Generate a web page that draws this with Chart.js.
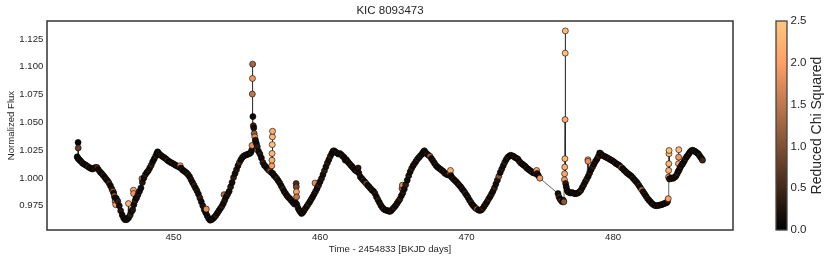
<!DOCTYPE html>
<html><head><meta charset="utf-8">
<script src="https://cdn.jsdelivr.net/npm/chart.js@4/dist/chart.umd.min.js"></script>
<style>
html,body{margin:0;padding:0;background:#fff;overflow:hidden}
#wrap{position:relative;width:831px;height:262px}
.box{position:absolute;top:0;height:262px}
</style></head><body>
<div id="wrap">
  <div class="box" style="left:0;width:831px"><canvas id="main"></canvas></div>
  <div class="box" style="left:760px;width:71px"><canvas id="cbar"></canvas></div>
</div>
<script>
const titleText = 'KIC 8093473';
const xLabel = 'Time - 2454833 [BKJD days]';
const yLabel = 'Normalized Flux';
const cbLabel = 'Reduced Chi Squared';
const xTicks = [450, 460, 470, 480];
const yTicks = [0.975, 1.000, 1.025, 1.050, 1.075, 1.100, 1.125];
const cbTicks = [0.0, 0.5, 1.0, 1.5, 2.0, 2.5];

const time = [
443.43,443.47,443.49,443.50,443.53,443.60,443.68,443.78,443.88,443.98,
444.08,444.18,444.28,444.38,444.48,444.58,444.68,444.78,444.88,445.00,
445.10,445.20,445.30,445.40,445.50,445.60,445.70,445.80,445.87,445.92,
445.96,446.00,446.02,446.06,446.10,446.20,446.30,446.40,446.50,446.60,
446.70,446.80,446.88,446.93,446.95,447.05,447.15,447.22,447.27,447.28,
447.30,447.38,447.48,447.58,447.68,447.78,447.85,447.88,447.98,448.08,
448.18,448.28,448.38,448.48,448.58,448.68,448.78,448.86,448.92,448.98,
449.08,449.18,449.28,449.38,449.48,449.58,449.68,449.78,449.88,449.98,
450.08,450.18,450.28,450.38,450.46,450.50,450.60,450.70,450.80,450.90,
451.00,451.10,451.20,451.30,451.40,451.50,451.60,451.70,451.80,451.90,
452.00,452.10,452.20,452.24,452.30,452.40,452.50,452.60,452.70,452.80,
452.90,453.00,453.10,453.20,453.30,453.40,453.45,453.50,453.60,453.70,
453.80,453.90,454.00,454.10,454.20,454.30,454.40,454.50,454.60,454.70,
454.80,454.90,455.00,455.10,455.20,455.28,455.34,455.36,455.38,455.39,
455.40,455.42,455.45,455.48,455.51,455.55,455.60,455.66,455.72,455.80,
455.90,456.00,456.10,456.20,456.30,456.40,456.50,456.60,456.68,456.71,
456.72,456.73,456.74,456.75,456.76,456.78,456.85,456.95,457.05,457.15,
457.25,457.35,457.45,457.55,457.65,457.75,457.85,457.95,458.05,458.15,
458.25,458.35,458.37,458.38,458.39,458.40,458.42,458.50,458.58,458.66,
458.74,458.82,458.90,459.00,459.10,459.20,459.30,459.40,459.50,459.60,
459.66,459.70,459.80,459.90,460.00,460.10,460.20,460.30,460.40,460.50,
460.60,460.70,460.80,460.88,460.95,461.05,461.15,461.25,461.35,461.45,
461.55,461.65,461.72,461.80,461.90,462.00,462.10,462.20,462.30,462.40,
462.50,462.60,462.65,462.75,462.85,462.95,463.05,463.15,463.25,463.35,
463.45,463.55,463.65,463.75,463.85,463.95,464.05,464.15,464.25,464.35,
464.45,464.55,464.65,464.75,464.85,464.95,465.05,465.15,465.25,465.35,
465.45,465.55,465.60,465.62,465.65,465.75,465.85,465.95,466.05,466.15,
466.25,466.35,466.45,466.55,466.65,466.75,466.85,466.95,467.05,467.12,
467.20,467.30,467.40,467.50,467.60,467.70,467.80,467.90,468.00,468.10,
468.20,468.30,468.40,468.50,468.60,468.70,468.80,468.88,468.90,468.92,
469.00,469.10,469.20,469.30,469.40,469.50,469.60,469.70,469.80,469.90,
470.00,470.10,470.20,470.30,470.40,470.50,470.60,470.70,470.80,470.90,
471.00,471.10,471.20,471.30,471.40,471.50,471.60,471.70,471.80,471.90,
472.00,472.10,472.20,472.30,472.40,472.50,472.60,472.70,472.80,472.90,
473.00,473.10,473.20,473.30,473.40,473.50,473.60,473.70,473.80,473.90,
474.00,474.10,474.20,474.30,474.40,474.50,474.60,474.70,474.78,474.82,
474.90,475.00,476.24,476.30,476.38,476.46,476.54,476.60,476.64,476.68,
476.69,476.70,476.71,476.72,476.73,476.74,476.76,476.80,476.86,476.92,
477.00,477.10,477.20,477.30,477.40,477.50,477.60,477.70,477.80,477.90,
478.00,478.10,478.20,478.28,478.29,478.30,478.40,478.50,478.60,478.70,
478.80,478.90,479.00,479.08,479.15,479.25,479.35,479.45,479.55,479.65,
479.75,479.85,479.95,480.05,480.15,480.25,480.35,480.45,480.55,480.65,
480.75,480.85,480.95,481.05,481.15,481.25,481.35,481.45,481.55,481.65,
481.75,481.85,481.95,482.05,482.15,482.25,482.35,482.45,482.55,482.65,
482.75,482.85,482.95,483.05,483.15,483.25,483.35,483.45,483.55,483.65,
483.72,483.76,483.78,483.79,483.80,483.81,483.82,483.84,483.90,483.98,
484.06,484.14,484.22,484.30,484.38,484.44,484.46,484.47,484.48,484.50,
484.56,484.62,484.70,484.78,484.86,484.94,485.02,485.10,485.18,485.26,
485.34,485.42,485.50,485.58,485.66,485.74,485.82,485.90,485.98,486.06,
486.10
];

const flux = [
1.0190,1.0180,1.0320,1.0270,1.0170,1.0160,1.0150,1.0135,1.0125,1.0118,
1.0110,1.0100,1.0092,1.0085,1.0080,1.0088,1.0095,1.0095,1.0075,1.0053,
1.0040,1.0025,1.0008,0.9990,0.9975,0.9955,0.9930,0.9900,0.9880,0.9865,
0.9840,0.9820,0.9790,0.9760,0.9815,0.9790,0.9750,0.9705,0.9668,0.9640,
0.9625,0.9625,0.9635,0.9770,0.9645,0.9668,0.9700,0.9715,0.9890,0.9860,
0.9760,0.9795,0.9820,0.9850,0.9880,0.9910,0.9994,0.9960,1.0000,1.0030,
1.0050,1.0065,1.0090,1.0115,1.0145,1.0170,1.0195,1.0220,1.0235,1.0225,
1.0210,1.0200,1.0190,1.0182,1.0172,1.0160,1.0150,1.0142,1.0135,1.0128,
1.0120,1.0112,1.0105,1.0098,1.0110,1.0090,1.0075,1.0065,1.0055,1.0045,
1.0030,1.0012,0.9985,0.9960,0.9935,0.9910,0.9885,0.9855,0.9820,0.9785,
0.9750,0.9715,0.9688,0.9720,0.9660,0.9635,0.9620,0.9625,0.9635,0.9648,
0.9665,0.9685,0.9705,0.9725,0.9745,0.9770,0.9850,0.9800,0.9830,0.9855,
0.9880,0.9920,0.9960,1.0005,1.0040,1.0075,1.0110,1.0140,1.0165,1.0185,
1.0198,1.0205,1.0210,1.0215,1.0220,1.0230,1.0250,1.0292,1.0755,1.0895,
1.1024,1.0552,1.0470,1.0450,1.0400,1.0370,1.0340,1.0310,1.0280,1.0240,
1.0215,1.0180,1.0140,1.0115,1.0100,1.0085,1.0070,1.0060,1.0050,1.0110,
1.0160,1.0220,1.0300,1.0370,1.0420,1.0040,1.0025,1.0010,0.9995,0.9975,
0.9955,0.9930,0.9905,0.9880,0.9860,0.9840,0.9825,0.9812,0.9795,0.9780,
0.9765,0.9775,0.9950,0.9920,0.9875,0.9830,0.9760,0.9730,0.9710,0.9695,
0.9680,0.9690,0.9705,0.9725,0.9745,0.9765,0.9785,0.9808,0.9830,0.9855,
0.9954,0.9880,0.9905,0.9935,0.9965,0.9995,1.0030,1.0065,1.0100,1.0135,
1.0165,1.0195,1.0220,1.0240,1.0245,1.0235,1.0225,1.0215,1.0220,1.0210,
1.0195,1.0185,1.0160,1.0165,1.0145,1.0130,1.0115,1.0100,1.0085,1.0070,
1.0060,1.0090,1.0045,1.0010,0.9995,0.9980,0.9965,0.9950,0.9935,0.9920,
0.9905,0.9890,0.9880,0.9860,0.9830,0.9805,0.9780,0.9755,0.9735,0.9720,
0.9712,0.9708,0.9705,0.9698,0.9705,0.9720,0.9735,0.9750,0.9770,0.9790,
0.9810,0.9840,0.9905,0.9935,0.9865,0.9900,0.9940,0.9980,1.0020,1.0055,
1.0085,1.0110,1.0130,1.0150,1.0170,1.0185,1.0200,1.0215,1.0235,1.0245,
1.0230,1.0215,1.0205,1.0195,1.0175,1.0155,1.0135,1.0115,1.0100,1.0090,
1.0080,1.0070,1.0060,1.0045,1.0035,1.0030,1.0025,1.0040,1.0068,1.0020,
1.0005,0.9990,0.9978,0.9965,0.9950,0.9935,0.9920,0.9900,0.9885,0.9865,
0.9845,0.9825,0.9800,0.9780,0.9760,0.9745,0.9730,0.9720,0.9712,0.9708,
0.9712,0.9725,0.9745,0.9765,0.9785,0.9810,0.9830,0.9855,0.9880,0.9910,
0.9945,0.9980,1.0015,1.0050,1.0080,1.0110,1.0140,1.0165,1.0185,1.0195,
1.0205,1.0200,1.0195,1.0185,1.0178,1.0170,1.0150,1.0135,1.0125,1.0115,
1.0105,1.0090,1.0080,1.0070,1.0060,1.0050,1.0045,1.0040,1.0068,1.0040,
1.0020,0.9998,0.9860,0.9830,0.9810,0.9795,0.9785,0.9800,0.9785,0.9985,
1.0038,1.0098,1.0173,1.0525,1.1123,1.1323,0.9950,0.9920,0.9890,0.9875,
0.9870,0.9865,0.9870,0.9862,0.9858,0.9860,0.9865,0.9875,0.9890,0.9915,
0.9940,0.9965,0.9990,1.0164,1.0150,1.0015,1.0045,1.0075,1.0100,1.0125,
1.0150,1.0170,1.0195,1.0225,1.0220,1.0205,1.0198,1.0192,1.0185,1.0178,
1.0170,1.0162,1.0155,1.0145,1.0135,1.0125,1.0118,1.0110,1.0095,1.0085,
1.0070,1.0058,1.0045,1.0035,1.0025,1.0015,1.0000,0.9985,0.9970,0.9955,
0.9935,0.9915,0.9895,0.9875,0.9855,0.9835,0.9815,0.9800,0.9785,0.9770,
0.9760,0.9752,0.9750,0.9752,0.9755,0.9758,0.9762,0.9768,0.9772,0.9778,
0.9790,0.9814,1.0008,1.0068,1.0128,1.0218,1.0247,0.9990,0.9995,1.0000,
0.9995,1.0002,1.0008,1.0020,1.0040,1.0060,1.0128,1.0187,1.0254,1.0070,
1.0090,1.0105,1.0120,1.0135,1.0155,1.0175,1.0190,1.0205,1.0220,1.0235,
1.0245,1.0250,1.0245,1.0240,1.0232,1.0225,1.0215,1.0200,1.0185,1.0170,
1.0160
];

const chi2 = [
0.15,0.1,0.05,0.8,0.15,0.25,0.1,0.35,0.15,0.25,
0.1,0.5,0.15,0.25,0.1,0.35,0.15,0.5,0.15,0.25,
0.15,0.35,0.1,0.25,0.15,0.5,0.15,0.25,1.3,0.15,
1.1,0.25,1.6,2.0,0.15,0.35,0.15,0.25,0.1,0.15,
0.1,0.25,0.15,2.2,0.15,0.35,0.15,0.25,2.1,1.9,
0.15,0.35,0.15,0.25,0.15,0.15,1.5,0.25,0.15,0.35,
0.15,0.25,0.15,0.35,0.15,0.1,0.25,0.15,0.1,0.25,
0.15,0.35,0.15,0.25,0.15,0.5,0.15,0.25,0.15,0.35,
0.15,0.25,0.15,0.25,2.0,0.15,0.35,0.15,0.25,0.15,
0.35,0.15,0.25,0.15,0.35,0.15,0.25,0.15,0.35,0.15,
0.25,0.15,0.1,1.8,0.15,0.25,0.1,0.15,0.25,0.15,
0.35,0.15,0.25,0.15,0.35,0.15,1.4,0.25,0.15,0.25,
0.15,0.25,0.15,0.35,0.15,0.25,0.15,0.5,0.15,0.25,
0.15,0.35,0.15,0.25,0.15,0.25,0.15,1.8,1.5,1.9,
1.3,0.1,0.5,0.15,1.2,1.8,0.25,0.15,0.35,0.15,
0.25,0.15,0.35,0.15,0.25,0.15,0.35,1.5,0.15,2.0,
2.2,2.3,2.4,2.3,2.2,0.15,0.25,0.15,0.35,0.15,
0.25,0.15,0.35,0.15,0.25,0.15,0.35,0.15,0.25,0.15,
0.25,0.15,0.6,0.9,2.0,1.5,0.15,0.25,0.15,0.35,
0.1,0.25,0.15,0.25,0.15,0.35,0.15,0.25,0.15,0.15,
1.8,0.25,0.15,0.35,0.15,0.25,0.15,0.35,0.15,0.25,
0.15,0.35,0.15,0.1,0.25,0.15,0.35,0.15,0.25,0.15,
0.35,0.15,0.25,0.15,0.25,0.15,0.35,0.15,0.25,0.15,
0.35,0.25,0.15,0.25,0.15,0.35,0.15,1.0,0.15,0.25,
0.15,0.35,0.15,0.25,0.15,0.35,0.15,0.25,0.15,0.35,
0.15,0.25,0.15,0.1,0.25,0.15,0.35,0.15,0.25,0.15,
0.35,0.15,1.2,1.7,0.25,0.15,0.35,0.15,0.25,0.15,
0.35,0.15,0.25,0.15,0.35,0.15,0.25,0.15,0.1,0.25,
0.15,0.35,0.15,1.2,0.15,0.25,0.15,0.35,0.15,0.25,
0.15,0.35,0.15,0.25,0.15,0.35,0.15,1.9,2.2,0.25,
0.15,0.35,0.15,0.25,0.15,0.35,0.15,0.25,0.15,0.35,
0.15,0.25,0.15,0.35,0.15,0.25,0.15,1.4,0.15,0.25,
0.15,0.35,0.15,0.25,0.15,0.35,0.15,0.25,0.15,0.35,
0.15,0.25,1.0,0.15,0.25,0.15,0.35,0.15,0.25,0.15,
0.1,0.25,0.15,0.35,0.15,0.25,0.15,0.35,0.15,0.25,
0.15,0.35,0.15,0.25,0.15,0.35,0.15,0.25,2.0,0.25,
0.15,1.9,0.15,0.5,0.15,0.9,0.25,0.15,1.1,1.9,
2.1,2.2,2.3,2.1,2.4,2.3,0.35,0.15,0.25,0.15,
0.35,0.15,0.25,0.15,0.35,0.15,0.25,0.15,0.35,0.15,
0.25,0.15,0.35,2.0,1.8,0.15,0.25,0.15,0.35,0.15,
0.25,0.15,0.35,0.1,0.25,0.15,0.35,0.15,0.25,0.15,
0.35,0.15,0.25,0.15,0.35,0.15,0.25,0.15,1.2,0.15,
0.25,0.15,0.35,0.15,0.25,0.15,0.35,0.15,0.25,0.15,
0.35,0.15,1.3,0.15,0.25,0.15,0.35,0.15,0.25,0.15,
0.35,0.15,0.25,0.15,0.35,0.15,0.25,0.15,0.35,0.15,
0.25,2.0,1.8,2.2,2.3,2.4,2.4,0.25,0.5,0.15,
0.35,0.15,0.25,0.15,0.35,0.15,2.1,1.9,2.3,0.25,
0.15,0.35,0.15,0.25,0.15,0.35,0.15,0.25,0.15,0.35,
0.15,0.25,0.15,0.35,0.15,0.25,0.15,0.35,0.15,0.25,
0.5
];

const cbMin = 0, cbMax = 2.5;
const xMin = 441.37, xMax = 488.18;
const yMin = 0.9532, yMax = 1.1412;

const FONT = "'Liberation Sans', Arial, Helvetica, sans-serif";
const TXT = '#262626';
Chart.defaults.font.family = FONT;
Chart.defaults.color = TXT;

function copper(v) {
  const x = Math.max(0, Math.min(1, (v - cbMin) / (cbMax - cbMin)));
  const r = Math.round(255 * Math.min(1, 1.25 * x));
  const g = Math.round(255 * 0.7812 * x);
  const b = Math.round(255 * 0.4975 * x);
  return `rgb(${r},${g},${b})`;
}

const n = Math.min(time.length, flux.length, chi2.length);
const pts = [];
const cols = [];
for (let i = 0; i < n; i++) { pts.push({x: time[i], y: flux[i]}); cols.push(copper(chi2[i])); }

const framePlugin = {
  id: 'frame',
  afterDraw(chart, args, opts) {
    const a = chart.chartArea, c = chart.ctx;
    c.save();
    c.strokeStyle = opts.color || '#333';
    c.lineWidth = opts.width || 1.5;
    c.strokeRect(a.left, a.top, a.right - a.left, a.bottom - a.top);
    c.restore();
  }
};

new Chart(document.getElementById('main'), {
  type: 'scatter',
  data: { datasets: [{
    data: pts,
    showLine: true,
    borderColor: 'rgba(25,25,25,0.85)',
    borderWidth: 0.8,
    tension: 0,
    pointRadius: 3.0,
    pointBackgroundColor: cols,
    pointBorderColor: '#000',
    pointBorderWidth: 0.6
  }]},
  options: {
    responsive: true, maintainAspectRatio: false, animation: false, events: [],
    layout: { padding: { left: 0, right: 98, top: 0, bottom: 0 } },
    plugins: {
      legend: { display: false }, tooltip: { enabled: false },
      title: { display: true, text: titleText, fullSize: false, color: TXT,
        font: { family: FONT, size: 11.5, weight: 'normal' }, padding: { top: 4.1, bottom: 3.1 } },
      frame: { color: '#333', width: 1.5 }
    },
    scales: {
      x: {
        type: 'linear', min: xMin, max: xMax,
        afterBuildTicks: s => { s.ticks = xTicks.map(v => ({ value: v })); },
        afterFit: s => { s.height = 32; },
        grid: { display: false, drawTicks: false }, border: { display: false },
        ticks: { font: { size: 9.6 }, color: TXT, padding: 1.5, maxRotation: 0, callback: v => String(v) },
        title: { display: true, text: xLabel, color: TXT, font: { size: 9.6 }, padding: { top: 0, bottom: 6.9 } }
      },
      y: {
        type: 'linear', min: yMin, max: yMax,
        afterBuildTicks: s => { s.ticks = yTicks.map(v => ({ value: v })); },
        afterFit: s => { s.width = 47; },
        grid: { display: false, drawTicks: false }, border: { display: false },
        ticks: { font: { size: 9.6 }, color: TXT, padding: 3.7, callback: v => Number(v).toFixed(3) },
        title: { display: true, text: yLabel, color: TXT, font: { size: 9.6 }, padding: { top: 5.2, bottom: 0 } }
      }
    }
  },
  plugins: [framePlugin]
});

const cbPlugin = {
  id: 'cbdeco',
  afterDraw(chart) {
    const a = chart.chartArea, c = chart.ctx;
    c.save();
    c.strokeStyle = '#444';
    c.lineWidth = 1.3;
    c.strokeRect(a.left, a.top, a.right - a.left, a.bottom - a.top);
    c.translate(57, (a.top + a.bottom) / 2);
    c.rotate(-Math.PI / 2);
    c.fillStyle = TXT;
    c.font = `14px ${FONT}`;
    c.textAlign = 'center';
    c.textBaseline = 'middle';
    c.fillText(cbLabel, 0, 0);
    c.restore();
  }
};

new Chart(document.getElementById('cbar'), {
  type: 'bar',
  data: { labels: [''], datasets: [{
    data: [cbMax],
    backgroundColor: ctx => {
      const a = ctx.chart.chartArea;
      if (!a) return '#000';
      const g = ctx.chart.ctx.createLinearGradient(0, a.bottom, 0, a.top);
      for (let i = 0; i <= 20; i++) g.addColorStop(i / 20, copper(cbMin + (cbMax - cbMin) * i / 20));
      return g;
    },
    borderWidth: 0, barPercentage: 1, categoryPercentage: 1
  }]},
  options: {
    responsive: true, maintainAspectRatio: false, animation: false, events: [],
    layout: { padding: { left: 16, right: 0, top: 21, bottom: 32 } },
    plugins: { legend: { display: false }, tooltip: { enabled: false } },
    scales: {
      x: { display: false },
      y: {
        position: 'right', min: cbMin, max: cbMax,
        afterBuildTicks: s => { s.ticks = cbTicks.map(v => ({ value: v })); },
        afterFit: s => { s.width = 44; },
        grid: { display: false, drawTicks: false }, border: { display: false },
        ticks: { font: { size: 11.5 }, color: TXT, padding: 3.5, callback: v => Number(v).toFixed(1) }
      }
    }
  },
  plugins: [cbPlugin]
});
</script>
</body></html>
